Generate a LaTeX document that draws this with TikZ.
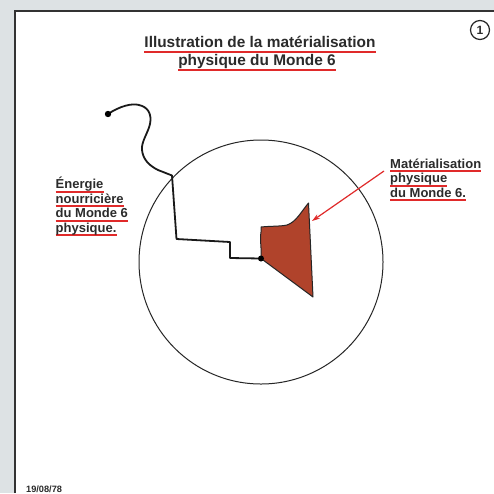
\documentclass[tikz,border=0pt]{standalone}
\usepackage{fontspec}
\setmainfont{Liberation Sans}
\usetikzlibrary{arrows.meta}
\definecolor{bgc}{HTML}{DDE2E4}
\definecolor{txtc}{HTML}{2B2B2B}
\definecolor{ulred}{HTML}{E02A2A}
\definecolor{shapec}{HTML}{B0432B}
\tikzset{
  lbl/.style={font=\fontsize{13}{14.5}\selectfont\bfseries, text=txtc, inner sep=0pt},
  ttl/.style={font=\fontsize{15.4}{17}\selectfont\bfseries, text=txtc, inner sep=0pt},
  ul/.style={draw=ulred, line width=1.6pt},
  wire/.style={draw=black!90, line width=1.8pt, line join=round, line cap=round},
}
\newcommand\ulline[6]{% name, style, x, y, text, offset
  \node[#2, anchor=base west] (#1) at (#3,#4) {\phantom{#5}};
  \draw[ul] ([yshift=-#6]#1.base west) -- ([yshift=-#6]#1.base east);
  \node[#2, anchor=base west] at (#3,#4) {#5};
}
\newcommand\ulcenter[6]{% name, style, x, y, text, offset
  \node[#2, anchor=base] (#1) at (#3,#4) {\phantom{#5}};
  \draw[ul] ([yshift=-#6]#1.base west) -- ([yshift=-#6]#1.base east);
  \node[#2, anchor=base] at (#3,#4) {#5};
}
\begin{document}
\begin{tikzpicture}[x=1pt,y=-1pt]
\useasboundingbox (0,0) rectangle (494,493);
\fill[bgc] (0,0) rectangle (494,493);
\fill[white] (14.5,10.5) rectangle (494,493);
\draw[line width=2pt, black!80] (14.5,493) -- (14.5,10.5) -- (494,10.5);

% circled number
\node[circle, draw=black!85, line width=1.2pt, minimum size=19pt, inner sep=0pt,
      font=\fontsize{12}{12}\selectfont\bfseries, text=txtc] (num) at (480,30) {1};

% title
\ulcenter{t1}{ttl}{260}{47.7}{Illustration de la matérialisation}{4pt}
\ulcenter{t2}{ttl}{257}{65.2}{physique du Monde 6}{4.5pt}

% big circle
\node[circle, draw=black!85, line width=1pt, minimum size=244pt, inner sep=0pt] (world) at (261,262) {};

% left label
\ulline{e1}{lbl}{55.5}{188.5}{Énergie}{3.2pt}
\ulline{e2}{lbl}{55.5}{203}{nourricière}{3.2pt}
\ulline{e3}{lbl}{55.5}{217.5}{du Monde 6}{3.2pt}
\ulline{e4}{lbl}{55.5}{232}{physique.}{3.2pt}

% right label
\ulline{m1}{lbl}{390}{168}{Matérialisation}{3pt}
\ulline{m2}{lbl}{390}{182.5}{physique}{3.2pt}
\ulline{m3}{lbl}{390}{197}{du Monde 6.}{3.2pt}

% date
\node[font=\fontsize{9.2}{10}\selectfont\bfseries, text=txtc, inner sep=0pt, anchor=base west] (date) at (26,492) {19/08/78};

% wire
\coordinate (ws) at (108,114);
\coordinate (we) at (261,258.5);
\draw[wire] (ws) .. controls (120,106) and (132,103) .. (139,105)
  .. controls (148,107) and (152,114) .. (150,124)
  .. controls (148,133) and (141,142) .. (142,150)
  .. controls (143,160) and (150,166) .. (158,170)
  -- (172,175.5) -- (176.5,239) -- (230,242) -- (230,258) -- (we);
\fill[black] (ws) circle (3.2pt);

% materialised shape
\coordinate (ptl) at (261,227);
\coordinate (ptip) at (308.5,203);
\coordinate (pbot) at (313,297);
\filldraw[fill=shapec, draw=black!85, line width=1pt, line join=round]
  (ptl) .. controls (270,226) and (280,226.5) .. (287,225)
  .. controls (296,222) and (301,212) .. (ptip)
  -- (pbot) -- (we)
  .. controls (262,250) and (259.5,240) .. (261,232) -- cycle;
\fill[black] (we) circle (3pt);

% red arrow
\coordinate (ta) at (312,221);
\draw[ulred, line width=1.2pt, -{Stealth[length=8pt,width=5pt]}] (m1.base west) ++(-6,3) -- (ta);
\end{tikzpicture}
\end{document}
